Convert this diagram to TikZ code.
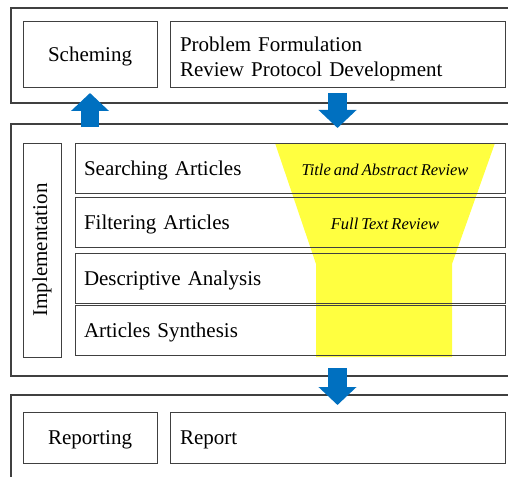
\documentclass[tikz,border=0pt]{standalone}
\usepackage{fontspec}
\setmainfont[WordSpace=0.75]{Liberation Serif}
\usepackage{xcolor}
\usepackage{tikz}
\usetikzlibrary{arrows.meta, positioning, backgrounds}

\definecolor{framegray}{RGB}{64,64,64}
\definecolor{arrowblue}{RGB}{0,112,192}
\definecolor{funnelyellow}{RGB}{255,255,64}

\begin{document}
\begin{tikzpicture}[
    x=1pt, y=-1pt,
    font=\fontsize{21}{25}\selectfont,
    panel/.style={draw=framegray, line width=1.2pt, anchor=north west, inner sep=0pt, outer sep=0pt, minimum width=530pt},
    box/.style={draw=framegray, line width=1pt, anchor=north west, inner sep=0pt, outer sep=0pt, minimum height=66pt, text height=16pt, text depth=2pt},
    wide/.style={box, inner xsep=10pt, text width=315pt, align=left},
    rowbox/.style={draw=framegray, line width=1pt, anchor=north west, inner xsep=9pt, inner ysep=0pt, outer sep=0pt, text width=412pt, align=left, minimum height=50pt, text height=16pt, text depth=2pt},
    sidebox/.style={draw=framegray, line width=1pt, rotate=90, inner sep=0pt, outer sep=0pt, minimum width=214pt, minimum height=38pt},
    stage/.style={font=\fontsize{16.5}{20}\selectfont\itshape, inner sep=0pt, text height=14pt, text depth=0pt},
    blockarrow/.style={draw=arrowblue, line width=18.5pt, -{Triangle[length=18pt, width=37pt]}}
]
    \useasboundingbox (0,0) rectangle (508,476);
    \clip (0,0) rectangle (508,476);

    % Three stage panels
    \node[panel, minimum height=95pt] (plan) at (11,8) {};
    \node[panel, minimum height=252pt] (exec) at (11,124) {};
    \node[panel, minimum height=95pt] (close) at (11,395) {};

    % Scheming
    \node[box, minimum width=134pt] (scheme) at (23,22) {Scheming};
    \node[wide, right=13pt of scheme, text height=21pt, text depth=27pt] (problem) {Problem Formulation\\Review Protocol Development};

    % Implementation
    \node[sidebox] (impl) at (42,250) {Implementation};
    \node[rowbox] (search) at (75,143) {Searching Articles};
    \node[rowbox, below=4pt of search] (filter) {Filtering Articles};
    \node[rowbox, below=6pt of filter] (descr) {Descriptive Analysis};
    \node[rowbox, below=2pt of descr] (synth) {Articles Synthesis};

    % Screening funnel
    \coordinate (axis) at (385,143);
    \begin{scope}[on background layer]
        \fill[funnelyellow] (275,143) -- (495,143) -- (452,264) -- (452,357)
            -- (316,357) -- (316,264) -- cycle;
    \end{scope}
    \node[stage] (abstract) at (search -| axis) {Title and Abstract Review};
    \node[stage] (fulltext) at (filter -| axis) {Full Text Review};

    % Reporting
    \node[box, minimum width=134pt, minimum height=51pt] (reporting) at (23,412) {Reporting};
    \node[wide, minimum height=51pt, right=13pt of reporting] (report) {Report};

    % Block arrows
    \draw[blockarrow] ([yshift=-3pt]exec.north -| scheme.south) -- ([yshift=-5pt]scheme.south);
    \draw[blockarrow] ([yshift=-5pt]problem.south) -- ([yshift=-4pt]exec.north -| problem.south);
    \draw[blockarrow] ([yshift=8pt]exec.south -| problem.south) -- ([yshift=-10pt]close.north -| problem.south);
\end{tikzpicture}
\end{document}
